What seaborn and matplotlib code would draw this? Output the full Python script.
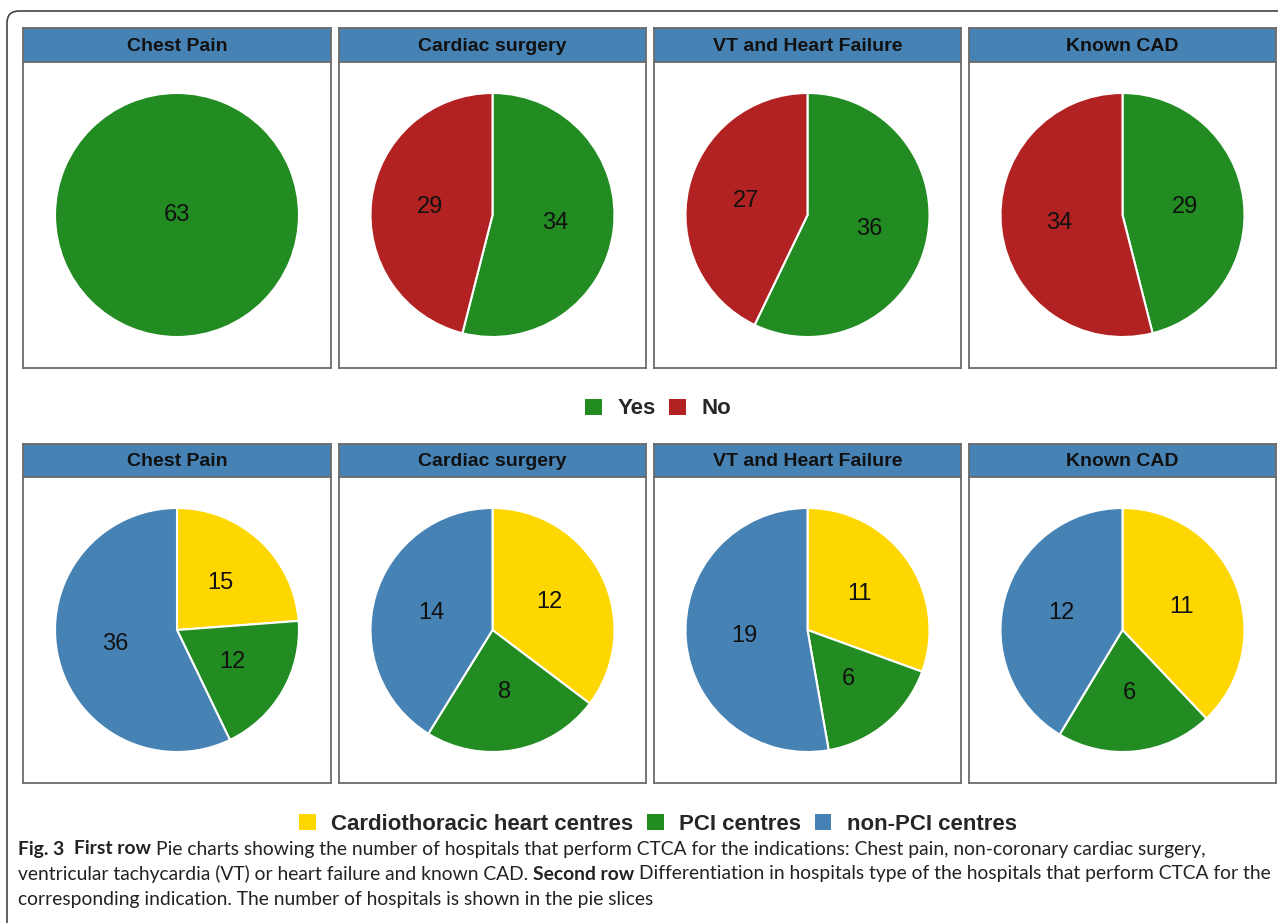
import matplotlib
matplotlib.use("Agg")
import matplotlib.pyplot as plt
from matplotlib.patches import Patch, FancyBboxPatch
import seaborn as sns

# datos
indications = ["Chest Pain", "Cardiac surgery", "VT and Heart Failure", "Known CAD"]
yes_counts = [63, 34, 36, 29]
no_counts = [0, 29, 27, 34]
cardio_counts = [15, 12, 11, 11]
pci_counts = [12, 8, 6, 6]
nonpci_counts = [36, 14, 19, 12]

row1_labels = ["Yes", "No"]
row2_labels = ["Cardiothoracic heart centres", "PCI centres", "non-PCI centres"]
row1_colors = ["#228B22", "#B22222"]
row2_colors = ["#FFD700", "#228B22", "#4682B4"]

caption = [
    [("Fig. 3", True), ("", False), ("First row", True),
     ("Pie charts showing the number of hospitals that perform CTCA for the indications: Chest pain, non-coronary cardiac surgery,", False)],
    [("ventricular tachycardia (VT) or heart failure and known CAD.", False), ("Second row", True),
     ("Differentiation in hospitals type of the hospitals that perform CTCA for the", False)],
    [("corresponding indication. The number of hospitals is shown in the pie slices", False)],
]

sns.set_theme(style="white")
plt.rcParams['font.family'] = ['Liberation Sans', 'DejaVu Sans']

W, H = 1278, 923
fig = plt.figure(figsize=(W / 100, H / 100), dpi=100)


def px_axes(x0, y0, x1, y1):
    return fig.add_axes([x0 / W, 1 - y1 / H, (x1 - x0) / W, (y1 - y0) / H])


cols = [(23, 331), (339, 646), (654, 961), (969, 1276)]
rows = [((28, 62), (62, 368)), ((444, 477), (477, 783))]
radius_px = 122
edge = "#6b6b6b"

series_rows = [
    (list(zip(yes_counts, no_counts)), row1_colors),
    (list(zip(cardio_counts, pci_counts, nonpci_counts)), row2_colors),
]

for (strip, panel), (vals_per_col, colors) in zip(rows, series_rows):
    for (x0, x1), name, vals in zip(cols, indications, vals_per_col):
        # cabecera azul
        sax = px_axes(x0, strip[0], x1, strip[1])
        sax.set_facecolor("#4682B4")
        sax.set_xticks([])
        sax.set_yticks([])
        for s in sax.spines.values():
            s.set_color(edge)
            s.set_linewidth(1.3)
        sax.text(0.5, 0.47, name, ha="center", va="center", fontsize=14,
                 fontweight="bold", color="#111111", transform=sax.transAxes)

        ax = px_axes(x0, panel[0], x1, panel[1])
        v = [a for a in vals if a > 0]
        c = [col for a, col in zip(vals, colors) if a > 0]
        total = sum(v)
        ax.pie(v, colors=c, startangle=90, counterclock=False,
               wedgeprops=dict(edgecolor="white", linewidth=1.5),
               autopct=lambda p, t=total: f"{round(p * t / 100)}",
               pctdistance=0.0 if len(v) == 1 else 0.52,
               textprops=dict(fontsize=17, color="#111111"))
        ax.set_frame_on(True)
        ax.set_aspect("auto")
        hw = (x1 - x0) / 2 / radius_px
        hh = (panel[1] - panel[0]) / 2 / radius_px
        ax.set_xlim(-hw, hw)
        ax.set_ylim(-hh, hh)
        for s in ax.spines.values():
            s.set_color(edge)
            s.set_linewidth(1.3)
            s.set_visible(True)

legend_prop = dict(weight="bold", size=16, family="Liberation Sans")
for labels, colors, y in [(row1_labels, row1_colors, 409), (row2_labels, row2_colors, 824)]:
    handles = [Patch(facecolor=col, edgecolor="none") for col in colors]
    fig.legend(handles, labels, loc="center", bbox_to_anchor=(658 / W, 1 - y / H),
               ncol=len(labels), frameon=False, prop=legend_prop,
               handlelength=0.75, handleheight=0.75, handletextpad=0.7,
               columnspacing=0.6, borderpad=0)

# marco exterior redondeado
frame = FancyBboxPatch((7, -40), 1320, H - 11 + 40, boxstyle="round,pad=0,rounding_size=12",
                       transform=None, facecolor="none", edgecolor="#444444", linewidth=1.2)
fig.patches.append(frame)

# pie de figura
cap_font = ["Lato", "DejaVu Sans"]
cap_size = 13.85
renderer = fig.canvas.get_renderer()


def text_w(s, bold):
    t = fig.text(0, 0, s, family=cap_font, size=cap_size, weight="bold" if bold else "normal")
    w = t.get_window_extent(renderer).width
    t.remove()
    return w


space_w = text_w("a a", False) - text_w("aa", False)
for line, y in zip(caption, [849, 874, 899]):
    x = 18
    for i, (txt, bold) in enumerate(line):
        if i > 0:
            x += space_w
        if txt == "":
            continue
        t = fig.text(x / W, 1 - y / H, txt, family=cap_font, size=cap_size,
                     weight="bold" if bold else "normal", va="center", ha="left", color="#222222")
        x += t.get_window_extent(renderer).width

fig.savefig("out.png", dpi=100)
